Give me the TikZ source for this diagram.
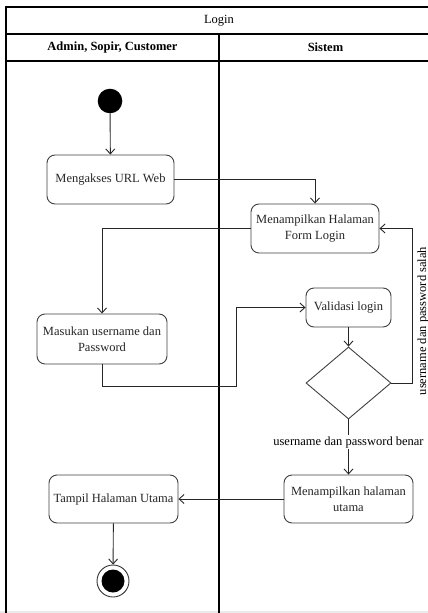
\documentclass[tikz,border=0pt]{standalone}
\usepackage{fontspec}
\setmainfont{Liberation Serif}
\usetikzlibrary{arrows.meta,shapes.geometric}
\begin{document}
\begin{tikzpicture}[x=1pt,y=-1pt,
  font=\fontsize{12.5}{16}\selectfont,
  lane/.style={draw=black, line width=1.2pt},
  action/.style={draw=black!75, line width=0.9pt, rounded corners=8pt, fill=white,
    align=center, inner sep=0pt, text=black!85},
  decision/.style={diamond, draw=black!75, line width=0.9pt, fill=white, inner sep=0pt},
  flow/.style={draw=black!85, line width=0.9pt, -{Straight Barb[length=5pt,width=9pt]}},
  header/.style={font=\fontsize{12.5}{16}\selectfont\bfseries}]
\useasboundingbox (0,0) rectangle (428,613);
\clip (0,0) rectangle (428,613);
\fill[black!8] (0,611) rectangle (428,613);

% swimlane frame
\draw[lane] (6,7) rectangle (432,640);
\draw[lane] (6,34) -- (432,34);
\draw[lane] (6,61) -- (432,61);
\draw[lane] (219,34) -- (219,640);
\node (title) at (219,20.5) {Login};
\node[header] (actor) at (112.5,47.5) {Admin, Sopir, Customer};
\node[header] (system) at (325.5,47.5) {Sistem};

% activity nodes
\node[circle, fill=black, minimum size=24.6pt, inner sep=0pt] (start) at (110,101) {};
\node[action, minimum width=127pt, minimum height=49pt] (access) at (110.5,179.5) {Mengakses URL Web};
\node[action, minimum width=128pt, minimum height=49pt] (form) at (315,228.5) {Menampilkan Halaman\\Form Login};
\node[action, minimum width=130pt, minimum height=50pt] (input) at (102,339) {Masukan username dan\\Password};
\node[action, minimum width=85pt, minimum height=39pt] (validate) at (348.5,307.5) {Validasi login};
\node[decision, minimum width=85pt, minimum height=72pt] (check) at (348.5,383) {};
\node[action, minimum width=129pt, minimum height=48pt] (showhome) at (348.5,499) {Menampilkan halaman\\utama};
\node[action, minimum width=129pt, minimum height=48pt] (home) at (113.5,499) {Tampil Halaman Utama};
\node[circle, draw=black!80, line width=0.9pt, fill=white, minimum size=32pt, inner sep=0pt] (stop) at (113,581) {};
\node[circle, fill=black, minimum size=23pt, inner sep=0pt] (stopdot) at (stop) {};

% bend points
\coordinate (toform) at (236,386);
\coordinate (retry) at (412,383);

% control flow
\draw[flow] (start) -- (access);
\draw[flow] (access.east) -| (form.north);
\draw[flow] (form.west) -| (input.north);
\draw[flow] (input.south) |- (toform) |- (validate.west);
\draw[flow] (validate) -- (check);
\draw[flow] (check.east) -- (retry) |- (form.east);
\node[rotate=90] (wrong) at (423,321) {username dan password salah};
\draw[flow] (check.south) -- node[pos=0.41, fill=white, inner sep=1pt] (right) {username dan password benar} (showhome.north);
\draw[flow] (showhome.west) -- (home.east);
\draw[flow] (home) -- (stop);
\end{tikzpicture}
\end{document}
